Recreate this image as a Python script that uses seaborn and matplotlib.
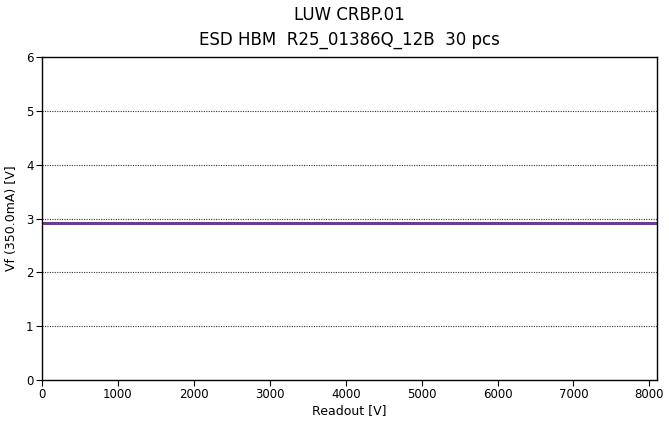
import numpy as np
import pandas as pd
import matplotlib
matplotlib.use("Agg")
import matplotlib.pyplot as plt
import seaborn as sns

readouts = [0, 500, 1000, 2000, 4000, 6000, 8000, 8100]
pieces = [f"pc{i:02d}" for i in range(1, 31)]
vf_levels = [2.90, 2.89, 2.90, 2.91, 2.89, 2.90, 2.90, 2.89, 2.91, 2.90,
             2.90, 2.89, 2.90, 2.90, 2.91, 2.89, 2.90, 2.90, 2.89, 2.90,
             2.91, 2.90, 2.89, 2.90, 2.90, 2.90, 2.89, 2.91, 2.90, 2.90]

rows = []
for p, v in zip(pieces, vf_levels):
    for r in readouts:
        rows.append({"piece": p, "Readout": r, "Vf": v})
df = pd.DataFrame(rows)

sns.set_theme(style="white")
plt.rcParams['font.family'] = ['DejaVu Sans']
plt.rcParams['text.color'] = 'black'
plt.rcParams['axes.labelcolor'] = 'black'
plt.rcParams['xtick.color'] = 'black'
plt.rcParams['ytick.color'] = 'black'

fig = plt.figure(figsize=(6.69, 4.26), dpi=100)
ax = fig.add_axes([42/669, 1-380/426, (657-42)/669, (380-57)/426])

palette = sns.blend_palette(["#4a3c8c", "#5b3a8c", "#6a3d92"], n_colors=30)
sns.lineplot(data=df, x="Readout", y="Vf", hue="piece", palette=palette,
             legend=False, ax=ax, linewidth=1.3, estimator=None, sort=True)

ax.set_xlim(0, 8100)
ax.set_ylim(0, 6)
ax.set_xticks(range(0, 8001, 1000))
ax.set_yticks(range(0, 7))
ax.set_xlabel("Readout [V]", fontsize=9, labelpad=2)
ax.set_ylabel("Vf (350.0mA) [V]", fontsize=9, labelpad=6)
ax.set_title("LUW CRBP.01\nESD HBM  R25_01386Q_12B  30 pcs", fontsize=12, pad=9,
             linespacing=1.45)
for y in range(1, 6):
    ax.axhline(y, color="#333333", linestyle=(0, (1, 1.2)), linewidth=0.8, zorder=0)
for s in ax.spines.values():
    s.set_visible(True)
    s.set_color("black")
    s.set_linewidth(1.0)
ax.tick_params(axis="both", direction="out", length=4, width=0.8, color="black",
               labelsize=8.5, left=True, bottom=True, pad=2)
fig.savefig("out.png", dpi=100)
